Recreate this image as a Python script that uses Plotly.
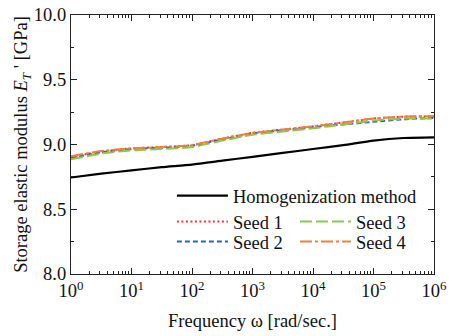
import plotly.graph_objects as go

# Data
freq = [1, 3.162, 10, 31.62, 100, 316.2, 1000, 3162, 1e4, 3.162e4, 1e5, 3.162e5, 1e6]
homog = [8.745, 8.775, 8.800, 8.825, 8.845, 8.875, 8.905, 8.935, 8.965, 8.995, 9.030, 9.050, 9.055]
seed1 = [8.905, 8.945, 8.970, 8.980, 8.995, 9.045, 9.090, 9.115, 9.140, 9.170, 9.200, 9.215, 9.215]
seed2 = [8.895, 8.940, 8.965, 8.975, 8.990, 9.040, 9.085, 9.110, 9.135, 9.155, 9.175, 9.195, 9.205]
seed3 = [8.885, 8.930, 8.955, 8.965, 8.980, 9.030, 9.075, 9.100, 9.125, 9.155, 9.185, 9.200, 9.200]
seed4 = [8.910, 8.950, 8.970, 8.980, 8.995, 9.045, 9.090, 9.115, 9.140, 9.170, 9.200, 9.215, 9.220]

series_names = ["Homogenization method", "Seed 1", "Seed 2", "Seed 3", "Seed 4"]
x_tickvals = [1, 10, 100, 1000, 1e4, 1e5, 1e6]
x_ticktext = ["10<sup>0</sup>", "10<sup>1</sup>", "10<sup>2</sup>", "10<sup>3</sup>",
              "10<sup>4</sup>", "10<sup>5</sup>", "10<sup>6</sup>"]

FONT = "'Liberation Serif', 'Times New Roman', 'DejaVu Serif', serif"
FS = 18.5

styles = [
    dict(color="#000000", width=2.2, dash="solid"),
    dict(color="#f03535", width=2, dash="2px,2.5px"),
    dict(color="#2f62b8", width=2, dash="5px,3px"),
    dict(color="#8cc84a", width=2, dash="12px,4px"),
    dict(color="#f0803c", width=2, dash="12px,3px,3px,3px"),
]
legend_ids = ["legend", "legend2", "legend3", "legend4", "legend5"]
# legend positions (paper coords)
leg_pos = [(0.278, 0.301), (0.278, 0.2008), (0.278, 0.1236), (0.617, 0.2008), (0.617, 0.1236)]

fig = go.Figure()
all_series = [homog, seed1, seed2, seed3, seed4]
for i, ys in enumerate(all_series):
    fig.add_trace(go.Scatter(
        x=freq, y=ys, mode="lines", name=series_names[i],
        line=dict(shape="spline", smoothing=0.6, **styles[i]),
        legend=legend_ids[i],
    ))

leg_common = dict(font=dict(family=FONT, size=FS, color="#111"), bgcolor="rgba(0,0,0,0)",
                  itemwidth=51, xanchor="left", yanchor="middle", borderwidth=0)
layout_legends = {}
for lid, (lx, ly) in zip(legend_ids, leg_pos):
    layout_legends[lid] = dict(x=lx, y=ly, **leg_common)

minor_x = [m * 10 ** e for e in range(6) for m in range(2, 10)]

fig.update_layout(
    width=454, height=336,
    margin=dict(l=71, r=20, t=15, b=62),
    paper_bgcolor="white", plot_bgcolor="white",
    font=dict(family=FONT, size=FS, color="#111"),
    showlegend=True,
    **layout_legends,
)
fig.update_xaxes(
    type="log", range=[0, 6], automargin=False,
    tickmode="array", tickvals=x_tickvals, ticktext=x_ticktext,
    ticks="inside", ticklen=6, tickwidth=1.2, tickcolor="#222",
    minor=dict(tickmode="array", tickvals=minor_x, ticks="inside", ticklen=3, tickwidth=1, tickcolor="#222"),
    showline=True, linecolor="#222", linewidth=1.3, mirror="allticks",
    showgrid=False, zeroline=False,
    tickfont=dict(family=FONT, size=FS, color="#111"),
    title=dict(text="Frequency ω [rad/sec.]", font=dict(family=FONT, size=FS, color="#111"), standoff=13),
)
fig.update_yaxes(
    range=[8, 10], dtick=0.5, tick0=8, tickformat=".1f", automargin=False,
    ticks="inside", ticklen=6, tickwidth=1.2, tickcolor="#222",
    minor=dict(dtick=0.25, ticks="inside", ticklen=3, tickwidth=1, tickcolor="#222"),
    showline=True, linecolor="#222", linewidth=1.3, mirror="allticks",
    showgrid=False, zeroline=False,
    tickfont=dict(family=FONT, size=FS, color="#111"),
    title=dict(text="Storage elastic modulus <i>E</i><sub><i>T</i></sub> ' [GPa]",
               font=dict(family=FONT, size=FS, color="#111"), standoff=1),
)

fig.write_html("out.html")
